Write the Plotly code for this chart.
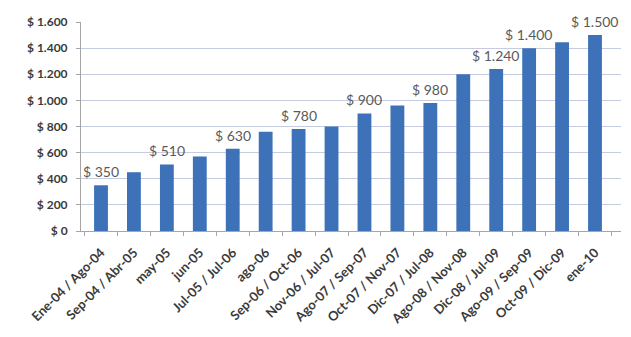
import plotly.graph_objects as go

# Periods and their amounts
periods = [
    "Ene-04 / Ago-04", "Sep-04 / Abr-05", "may-05", "jun-05",
    "Jul-05 / Jul-06", "ago-06", "Sep-06 / Oct-06", "Nov-06 / Jul-07",
    "Ago-07 / Sep-07", "Oct-07 / Nov-07", "Dic-07 / Jul-08", "Ago-08 / Nov-08",
    "Dic-08 / Jul-09", "Ago-09 / Sep-09", "Oct-09 / Dic-09", "ene-10",
]
amounts = [350, 450, 510, 570, 630, 760, 780, 800,
           900, 960, 980, 1200, 1240, 1400, 1445, 1500]

# Bars that carry a value label
labelled = [0, 2, 4, 6, 8, 10, 12, 13, 15]

y_ticks = [0, 200, 400, 600, 800, 1000, 1200, 1400, 1600]
y_tick_text = ["$ 0", "$ 200", "$ 400", "$ 600", "$ 800",
               "$ 1.000", "$ 1.200", "$ 1.400", "$ 1.600"]


def money(v):
    return "$ " + f"{v:,}".replace(",", ".")


FONT = "Lato, 'Open Sans', sans-serif"

fig = go.Figure(go.Bar(
    x=periods,
    y=amounts,
    marker=dict(color="#3d72b8", line=dict(width=0)),
    hoverinfo="x+y",
))

for i in labelled:
    fig.add_annotation(
        x=periods[i], y=amounts[i], text=money(amounts[i]),
        showarrow=False, yanchor="bottom", yshift=3,
        font=dict(family=FONT, size=14, color="#5a5a5a"),
    )

fig.update_layout(
    width=631, height=337,
    margin=dict(l=81, r=10, t=22, b=104),
    paper_bgcolor="white", plot_bgcolor="white",
    bargap=0.58,
    showlegend=False,
    font=dict(family=FONT, color="#404040"),
    xaxis=dict(
        tickangle=-45,
        tickfont=dict(family=FONT, size=13, color="#3a3a3a", weight="bold"),
        ticklabelstandoff=8,
        showline=True, linecolor="#a6a6a6", linewidth=1,
        ticks="outside", tickson="boundaries", ticklen=4, tickcolor="#a6a6a6",
        showgrid=False,
    ),
    yaxis=dict(
        range=[0, 1600],
        tickvals=y_ticks, ticktext=y_tick_text,
        tickfont=dict(family=FONT, size=12, color="#3a3a3a", weight="bold"),
        ticklabelstandoff=6,
        showgrid=True, gridcolor="#c5cce0", gridwidth=1,
        showline=True, linecolor="#a6a6a6", linewidth=1,
        ticks="outside", ticklen=4, tickcolor="#a6a6a6",
        zeroline=False,
    ),
)

fig.write_html("out.html")
